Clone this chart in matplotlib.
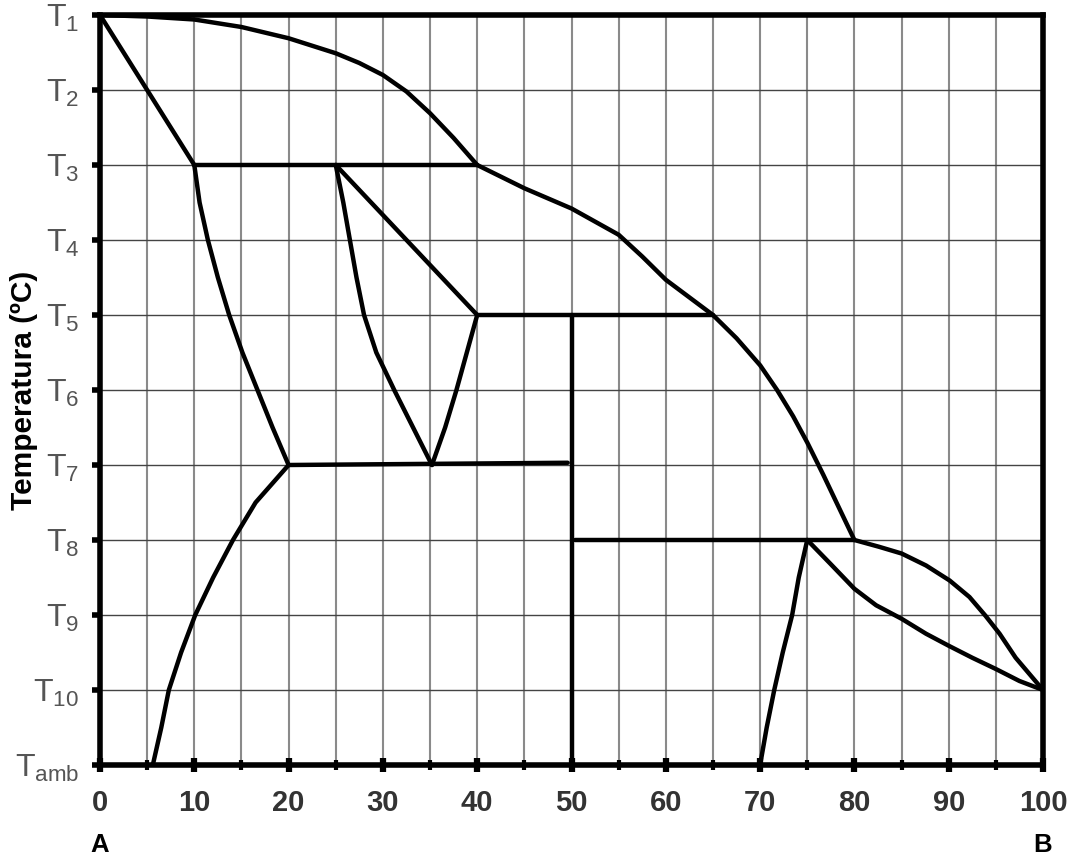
import numpy as np
import matplotlib.pyplot as plt

plt.rcParams['font.family'] = ['Liberation Sans', 'DejaVu Sans']
plt.rcParams['mathtext.fontset'] = 'custom'
plt.rcParams['mathtext.rm'] = 'Liberation Sans'
plt.rcParams['mathtext.it'] = 'Liberation Sans'

# niveis de temperatura (Tamb = 0 ... T1 = 10)
niveis = [0, 1, 2, 3, 4, 5, 6, 7, 8, 9, 10]
rotulos_T = ['T$_{amb}$', 'T$_{10}$', 'T$_{9}$', 'T$_{8}$', 'T$_{7}$', 'T$_{6}$',
             'T$_{5}$', 'T$_{4}$', 'T$_{3}$', 'T$_{2}$', 'T$_{1}$']
x_ticks = [0, 10, 20, 30, 40, 50, 60, 70, 80, 90, 100]

# curvas do diagrama (composicao %B, nivel de temperatura)
liq1_x = [0, 5, 10, 15, 20, 25, 27.5, 30, 32.5, 35, 37.5, 40]
liq1_y = [10, 9.98, 9.94, 9.84, 9.69, 9.49, 9.36, 9.2, 8.98, 8.69, 8.36, 8.0]
liq2_x = [40, 45, 50, 55, 57.5, 60, 65, 67.5, 70, 71.8, 73.5, 75, 76.7, 78.1, 80]
liq2_y = [8.0, 7.69, 7.42, 7.07, 6.78, 6.47, 6.0, 5.69, 5.33, 5.0, 4.65, 4.3, 3.87, 3.5, 3.0]
sol1_x = [0, 5, 10]
sol1_y = [10, 9.0, 8.0]
sol2_x = [10, 10.56, 11.44, 12.5, 13.7, 15.1, 16.7, 18.3, 20]
sol2_y = [8.0, 7.5, 7.0, 6.5, 6.0, 5.5, 5.0, 4.5, 4.0]
solv1_x = [20, 16.5, 14.1, 12.0, 10.1, 8.6, 7.3, 6.5, 5.6]
solv1_y = [4.0, 3.5, 3.0, 2.5, 2.0, 1.5, 1.0, 0.5, 0.0]
per1_x = [25, 40]
per1_y = [8.0, 6.0]
c3_x = [25, 25.8, 26.5, 27.2, 28.0, 29.3, 31.2, 33.2, 35.2]
c3_y = [8.0, 7.5, 7.0, 6.5, 6.0, 5.5, 5.0, 4.5, 4.0]
c4_x = [35.2, 36.6, 37.8, 38.9, 40]
c4_y = [4.0, 4.5, 5.0, 5.5, 6.0]
solv2_x = [75, 74.1, 73.4, 72.4, 71.5, 70.7, 70]
solv2_y = [3.0, 2.5, 2.0, 1.5, 1.0, 0.5, 0.0]
liq3_x = [80, 82.6, 85, 87.6, 90.1, 92.2, 93.9, 95.4, 97.1, 100]
liq3_y = [3.0, 2.91, 2.82, 2.66, 2.46, 2.24, 1.99, 1.75, 1.43, 1.0]
sol3_x = [75, 77.4, 80, 82.3, 85, 87.6, 90, 92.5, 95, 97.5, 100]
sol3_y = [3.0, 2.69, 2.35, 2.13, 1.95, 1.75, 1.59, 1.43, 1.28, 1.12, 1.0]

# linhas horizontais / vertical
iso_T3 = ([10, 40], [8.0, 8.0])
iso_T5 = ([40, 65], [6.0, 6.0])
iso_T7 = ([20, 49.6], [4.0, 4.03])
iso_T8 = ([50.4, 80], [3.0, 3.0])
vert50 = ([50, 50], [6.0, 0.0])

fig = plt.figure(figsize=(10.71, 8.59), dpi=100)
ax = fig.add_axes([100/1071, 1-765/859, 943/1071, 750/859])

for xv in range(5, 100, 5):
    ax.axvline(xv, color='#8a8a8a', lw=1.5, zorder=1)
for yv in niveis[1:-1]:
    ax.axhline(yv, color='#444444', lw=1.0, zorder=1)

kw = dict(color='black', lw=3.2, solid_capstyle='round', solid_joinstyle='round', zorder=3)
for xs, ys in [(liq1_x, liq1_y), (liq2_x, liq2_y), (sol1_x, sol1_y), (sol2_x, sol2_y),
               (solv1_x, solv1_y), (per1_x, per1_y), (c3_x, c3_y), (c4_x, c4_y),
               (solv2_x, solv2_y), (liq3_x, liq3_y), (sol3_x, sol3_y),
               iso_T3, iso_T5, iso_T7, iso_T8, vert50]:
    ax.plot(xs, ys, **kw)

ax.set_xlim(0, 100)
ax.set_ylim(0, 10)
for s in ax.spines.values():
    s.set_linewidth(4)
    s.set_zorder(4)

ax.set_yticks(niveis)
ax.set_yticklabels(rotulos_T, fontsize=23, color='#555555')
ax.tick_params(axis='y', direction='out', length=6, width=4, pad=9)
ax.set_xticks(np.arange(0, 101, 5), minor=True)
ax.set_xticks(x_ticks)
ax.set_xticklabels([str(v) for v in x_ticks], fontsize=21, fontweight='bold', color='#333333')
ax.tick_params(axis='x', which='major', direction='inout', length=10, width=4.5, pad=12)
ax.tick_params(axis='x', which='minor', direction='inout', length=7, width=3)

ax.set_ylabel('Temperatura (ºC)', fontsize=21.5, fontweight='bold')
ax.yaxis.set_label_coords(-0.066, 0.5)

fig.text(100/1071, 1-845/859, 'A', fontsize=18.5, fontweight='bold', ha='center', va='center')
fig.text(1043/1071, 1-845/859, 'B', fontsize=18.5, fontweight='bold', ha='center', va='center')

fig.savefig('out.png', dpi=100)
